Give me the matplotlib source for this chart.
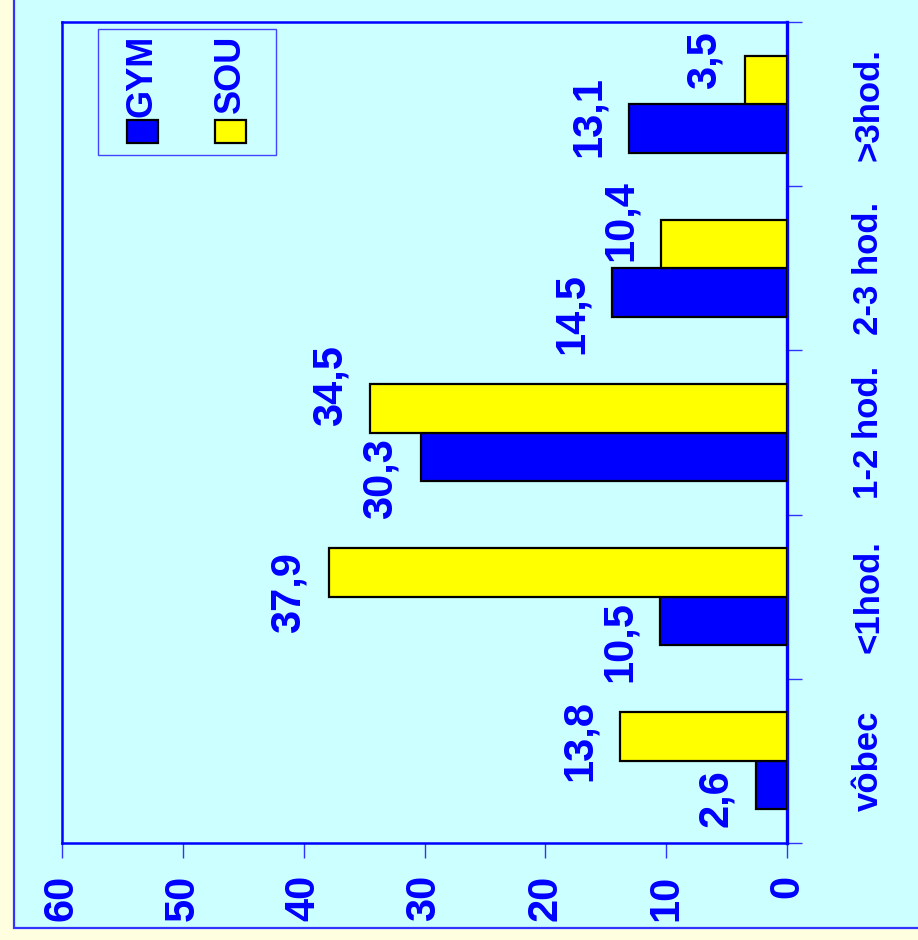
import matplotlib
matplotlib.use('Agg')
import matplotlib.pyplot as plt
from matplotlib.patches import Rectangle
import numpy as np

# data
categories = ['vôbec', '<1hod.', '1-2 hod.', '2-3 hod.', '>3hod.']
gym = [2.6, 10.5, 30.3, 14.5, 13.1]
sou = [13.8, 37.9, 34.5, 10.4, 3.5]
series_names = ['GYM', 'SOU']
value_ticks = [0, 10, 20, 30, 40, 50, 60]

# label nudges in pixels (down in picture), to follow the hand placed labels
nudge_gym = [13, 21, 22, 21, -12]
nudge_sou = [4, 20, -23, -24, -20]

BLUE = '#0000FF'
YEL = '#FFFF00'
CYAN = '#CCFFFF'
TXT = '#0000FF'
FONT = ['Liberation Sans', 'DejaVu Sans']
W, H = 918, 940

plt.rcParams['font.family'] = FONT
plt.rcParams['font.weight'] = 'bold'

fig = plt.figure(figsize=(W / 100, H / 100), dpi=100, facecolor='#FFFFE0')

# inner cyan panel with blue frame
fig.patches.append(Rectangle((14 / W, 1 - 928 / H), 1.2, 1.2, transform=fig.transFigure,
                             facecolor=CYAN, edgecolor='#3333FF', lw=1.6, zorder=-5))

ax = fig.add_axes([62 / W, 1 - 843 / H, (787 - 62) / W, (843 - 22) / H])
ax.set_facecolor(CYAN)

y = np.arange(len(categories))
bh = 0.295
ax.barh(y - bh / 2, gym, height=bh, color=BLUE, edgecolor='black', lw=1.6, zorder=3)
ax.barh(y + bh / 2, sou, height=bh, color=YEL, edgecolor='black', lw=1.6, zorder=3)

ax.set_xlim(60, 0)
ax.set_ylim(-0.5, len(categories) - 0.5)

px = 0.72  # points per pixel
gap = 20
for i in range(len(categories)):
    ax.annotate(f'{gym[i]}'.replace('.', ','), (gym[i], y[i] - bh / 2),
                xytext=(-gap * px, -nudge_gym[i] * px), textcoords='offset points',
                rotation=90, ha='right', va='center', fontsize=30, color=TXT, fontweight='bold')
    ax.annotate(f'{sou[i]}'.replace('.', ','), (sou[i], y[i] + bh / 2),
                xytext=(-gap * px, -nudge_sou[i] * px), textcoords='offset points',
                rotation=90, ha='right', va='center', fontsize=30, color=TXT, fontweight='bold')

# value axis (bottom)
ax.set_xticks(value_ticks)
ax.set_xticklabels([str(v) for v in value_ticks], rotation=90, fontsize=30,
                   color=TXT, fontweight='bold', va='top', ha='center')
ax.tick_params(axis='x', direction='out', length=11, width=1, color='#3333FF', pad=12)

# category axis on right side
ax.yaxis.tick_right()
ax.set_yticks(y)
ax.set_yticklabels(categories, rotation=90, fontsize=25, color=TXT,
                   fontweight='bold', va='center', ha='left')
ax.set_yticks(np.arange(-0.5, len(categories), 1), minor=True)
ax.tick_params(axis='y', which='major', length=0, pad=47)
ax.tick_params(axis='y', which='minor', direction='out', length=11, width=1,
               color='#3333FF', right=True, left=False)

for s in ax.spines.values():
    s.set_color(BLUE)
    s.set_linewidth(1.8)
ax.spines['right'].set_linewidth(2.4)

# legend, drawn turned like the rest
def fx(v):
    return v / W

def fy(v):
    return 1 - v / H

fig.patches.append(Rectangle((fx(98), fy(155)), fx(276) - fx(98), fy(29) - fy(155),
                             transform=fig.transFigure, facecolor='none',
                             edgecolor='#4444FF', lw=1, zorder=5))
leg_x = [142, 230]
leg_colors = [BLUE, YEL]
for name, cx, col in zip(series_names, leg_x, leg_colors):
    fig.patches.append(Rectangle((fx(cx - 15), fy(143)), fx(31), 23 / H,
                                 transform=fig.transFigure, facecolor=col,
                                 edgecolor='black', lw=1.6, zorder=6))
    fig.text(fx(cx), fy(35), name, rotation=90, ha='center', va='top',
             fontsize=26, color=TXT, fontweight='bold')

fig.savefig('out.png', dpi=100, facecolor=fig.get_facecolor())
